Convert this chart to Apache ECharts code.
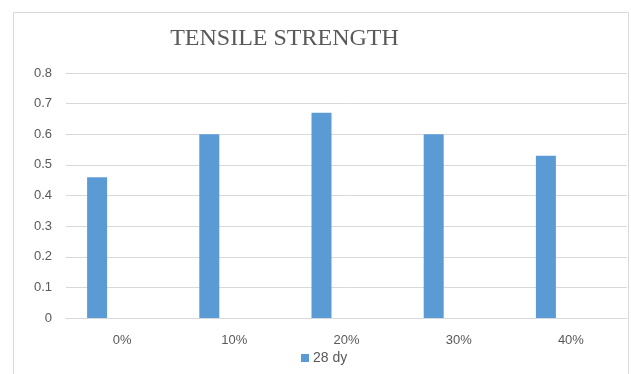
<!DOCTYPE html>
<html>
<head>
<meta charset="utf-8">
<script src="https://cdn.jsdelivr.net/npm/echarts@6/dist/echarts.min.js"></script>
<style>
  html, body { margin: 0; padding: 0; background: #fff; }
  #chart { width: 631px; height: 374px; }
</style>
</head>
<body>
<div id="chart"></div>
<script>
// Mix proportions and 28-day tensile strength
const categories = ['0%', '10%', '20%', '30%', '40%'];
const strength28 = [0.46, 0.60, 0.67, 0.60, 0.53];
const yTicks = { min: 0, max: 0.8, step: 0.1 };

const chart = echarts.init(document.getElementById('chart'), null, { renderer: 'canvas' });

chart.setOption({
  animation: false,
  backgroundColor: '#ffffff',
  graphic: [{
    type: 'rect',
    shape: { x: 13.5, y: 12.5, width: 615, height: 400 },
    style: { fill: 'none', stroke: '#d9d9d9', lineWidth: 1 },
    silent: true
  }],
  title: {
    text: 'TENSILE STRENGTH',
    left: 279.5,
    top: 22,
    textAlign: 'center',
    textStyle: {
      fontFamily: 'Liberation Serif',
      fontWeight: 'normal',
      fontSize: 24,
      color: '#595959'
    }
  },
  legend: {
    data: ['28 dy'],
    left: 296,
    top: 346,
    itemWidth: 8,
    itemHeight: 8,
    itemGap: 4,
    icon: 'rect',
    textStyle: { fontFamily: 'Liberation Sans', fontSize: 14, color: '#595959', padding: [0, 0, 0, -1] }
  },
  grid: { left: 66, right: 4, top: 73, bottom: 56, containLabel: false },
  xAxis: {
    type: 'category',
    data: categories,
    axisLine: { show: true, lineStyle: { color: '#d9d9d9' } },
    axisTick: { show: false },
    axisLabel: { fontFamily: 'Liberation Sans', fontSize: 13, color: '#595959', margin: 16 }
  },
  yAxis: {
    type: 'value',
    min: yTicks.min,
    max: yTicks.max,
    interval: yTicks.step,
    axisLine: { show: false },
    axisTick: { show: false },
    splitLine: { lineStyle: { color: '#d9d9d9' } },
    axisLabel: {
      fontFamily: 'Liberation Sans', fontSize: 13, color: '#595959', margin: 14,
      formatter: v => (Math.round(v * 10) / 10).toString()
    }
  },
  series: [
    {
      name: '28 dy',
      type: 'bar',
      data: strength28,
      barWidth: 20,
      barGap: '150%',
      itemStyle: { color: '#5b9bd5' }
    },
    {
      name: 'spare',
      type: 'bar',
      data: categories.map(() => null),
      barWidth: 20,
      itemStyle: { color: '#ed7d31' }
    }
  ]
});
</script>
</body>
</html>
